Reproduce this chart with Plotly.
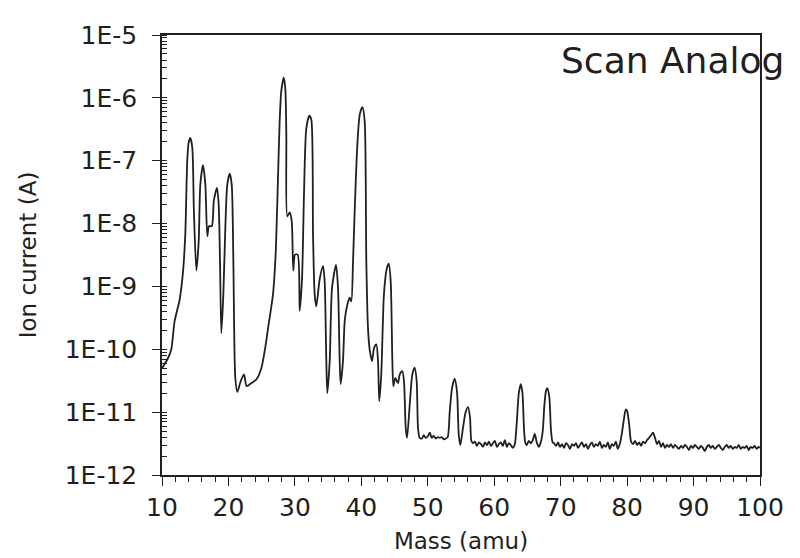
import plotly.graph_objects as go

# Mass scan (amu) and ion current (A)
mass = [
    10.0, 10.9, 11.4, 11.9, 12.66, 13.16, 13.5, 13.8, 14.0, 14.26, 14.56, 14.8,
    15.17, 15.52, 15.77, 16.17, 16.52, 16.82, 17.07, 17.5, 17.8, 18.28, 18.53,
    18.73, 18.93, 19.23, 19.53, 19.83, 20.19, 20.49, 20.74, 21.03, 21.34, 21.84,
    22.34, 22.74, 23.45, 24.2, 24.95, 25.45, 26.05, 26.7, 27.1, 27.46, 27.71,
    27.96, 28.32, 28.56, 28.71, 28.86, 29.22, 29.52, 29.76, 30.02, 30.42, 30.72,
    31.07, 31.37, 31.72, 32.17, 32.47, 32.73, 32.98, 33.22, 33.73, 34.23, 34.48,
    34.73, 34.88, 35.24, 35.59, 36.19, 36.49, 36.74, 36.89, 37.24, 37.5, 37.89,
    38.25, 38.49, 38.75, 39.0, 39.4, 39.76, 40.16, 40.5, 40.75, 41.0, 41.26,
    41.61, 41.91, 42.26, 42.51, 42.7, 43.0, 43.4, 43.82, 44.12, 44.42, 44.67,
    44.82, 45.12, 45.52, 45.78, 46.17, 46.42, 46.68, 46.88, 47.28, 47.68, 48.03,
    48.33, 48.53, 48.78,
    49.1, 49.4, 49.7, 50.0, 50.3, 50.6, 50.9, 51.2, 51.5, 51.8, 52.1, 52.4, 52.7, 53.0,
    53.3, 53.65, 54.05, 54.4, 54.66, 54.9, 55.3, 55.7, 56.06, 56.36, 56.56,
    56.8, 57.1, 57.4, 57.7, 58.0, 58.3, 58.6, 58.9, 59.2, 59.5, 59.8, 60.1, 60.4,
    60.7, 61.0, 61.3, 61.6, 61.9, 62.2, 62.5, 62.8, 63.1,
    63.4, 63.7, 64.0, 64.25, 64.5, 64.7,
    64.9, 65.2, 65.5, 65.8, 66.1, 66.4, 66.7, 67.0,
    67.3, 67.55, 67.8, 68.0, 68.3, 68.55, 68.8,
    69.0, 69.3, 69.6, 69.9, 70.2, 70.5, 70.8, 71.1, 71.4, 71.7, 72.0, 72.3, 72.6,
    72.9, 73.2, 73.5, 73.8, 74.1, 74.4, 74.7, 75.0, 75.3, 75.6, 75.9, 76.2, 76.5,
    76.8, 77.1, 77.4, 77.7, 78.0, 78.3, 78.6, 78.9,
    79.2, 79.5, 79.8, 80.0, 80.3, 80.6, 80.9, 81.2, 81.5, 81.8, 82.1, 82.4, 82.7,
    83.0, 83.3, 83.6, 83.9, 84.2, 84.5, 84.8,
    85.1, 85.4, 85.7, 86.0, 86.3, 86.6, 86.9, 87.2, 87.5, 87.8, 88.1, 88.4, 88.7,
    89.0, 89.3, 89.6, 89.9, 90.2, 90.5, 90.8, 91.1, 91.4, 91.7, 92.0, 92.3, 92.6,
    92.9, 93.2, 93.5, 93.8, 94.1, 94.4, 94.7, 95.0, 95.3, 95.6, 95.9, 96.2, 96.5,
    96.8, 97.1, 97.4, 97.7, 98.0, 98.3, 98.6, 98.9, 99.2, 99.5, 99.8, 100.0,
]

current = [
    5.0e-11, 7.2e-11, 1.0e-10, 2.8e-10, 6.2e-10, 1.7e-9, 6.6e-9, 1.0e-7, 1.9e-7, 2.3e-7, 1.6e-7, 1.6e-8,
    1.8e-9, 5.2e-9, 4.2e-8, 8.5e-8, 4.2e-8, 6.3e-9, 9.1e-9, 9.1e-9, 2.3e-8, 3.7e-8, 2.0e-8,
    2.5e-9, 1.8e-10, 7.4e-10, 8.5e-9, 4.2e-8, 6.2e-8, 4.2e-8, 2.5e-9, 3.5e-11, 2.1e-11, 3.1e-11,
    4.0e-11, 2.6e-11, 2.9e-11, 3.3e-11, 5.0e-11, 9.3e-11, 2.5e-10, 7.4e-10, 3.2e-9, 5.4e-8, 4.3e-7,
    1.3e-6, 2.1e-6, 1.4e-6, 2.6e-7, 1.3e-8, 1.5e-8, 1.1e-8, 1.8e-9, 3.2e-9, 3.2e-9, 4.1e-10,
    1.3e-9, 2.9e-8, 3.3e-7, 5.2e-7, 4.5e-7, 6.6e-9, 7.4e-10, 4.8e-10, 1.3e-9, 2.1e-9, 1.2e-9,
    6.5e-11, 2.0e-11, 6.5e-11, 9.5e-10, 2.2e-9, 9.5e-10, 6.5e-11, 2.8e-11, 6.5e-11, 2.8e-10, 5.1e-10,
    6.6e-10, 5.8e-10, 2.5e-9, 1.6e-8, 1.8e-7, 5.4e-7, 7.1e-7, 4.3e-7, 2.5e-9, 2.2e-10, 9.8e-11,
    6.5e-11, 1.05e-10, 1.2e-10, 6.5e-11, 1.5e-11, 4.0e-11, 7.4e-10, 1.9e-9, 2.3e-9, 1.2e-9, 6.5e-11,
    2.6e-11, 3.5e-11, 2.9e-11, 4.0e-11, 4.5e-11, 3.1e-11, 5.6e-12, 3.9e-12, 1.3e-11, 4.0e-11, 5.1e-11,
    3.1e-11, 5.6e-12, 3.9e-12,
    3.8e-12, 4.3e-12, 3.9e-12, 4.1e-12, 4.7e-12, 3.9e-12, 4.2e-12, 3.8e-12, 4.0e-12, 3.9e-12, 4.0e-12, 3.7e-12, 3.8e-12, 4.0e-12,
    1.0e-11, 2.4e-11, 3.4e-11, 2.1e-11, 4.4e-12, 3.0e-12, 5.6e-12, 1.0e-11, 1.2e-11, 8.1e-12, 3.5e-12,
    3.2e-12, 3.4e-12, 2.9e-12, 3.3e-12, 3.1e-12, 2.8e-12, 3.3e-12, 3.0e-12, 3.4e-12, 2.9e-12, 3.2e-12, 3.5e-12, 2.8e-12,
    3.1e-12, 3.3e-12, 2.9e-12, 3.6e-12, 2.8e-12, 3.2e-12, 3.0e-12, 2.7e-12, 3.1e-12,
    7.0e-12, 2.0e-11, 2.8e-11, 2.0e-11, 5.0e-12, 3.2e-12,
    3.0e-12, 3.5e-12, 3.2e-12, 3.6e-12, 4.5e-12, 3.3e-12, 2.8e-12, 3.3e-12,
    5.0e-12, 1.3e-11, 2.2e-11, 2.4e-11, 1.7e-11, 5.0e-12, 3.3e-12,
    3.2e-12, 2.9e-12, 3.3e-12, 2.8e-12, 3.1e-12, 2.7e-12, 3.2e-12, 3.0e-12, 2.6e-12, 3.1e-12, 2.9e-12, 3.2e-12, 2.7e-12,
    3.0e-12, 3.3e-12, 2.8e-12, 3.1e-12, 2.6e-12, 3.0e-12, 3.3e-12, 2.8e-12, 3.1e-12, 2.9e-12, 3.4e-12, 2.7e-12, 3.0e-12,
    2.8e-12, 3.3e-12, 2.6e-12, 3.1e-12, 2.9e-12, 3.4e-12, 2.6e-12, 3.1e-12,
    4.5e-12, 7.5e-12, 1.1e-11, 1.05e-11, 6.5e-12, 3.4e-12, 3.1e-12, 3.5e-12, 3.0e-12, 3.3e-12, 2.9e-12, 3.4e-12, 3.2e-12,
    3.6e-12, 3.9e-12, 4.3e-12, 4.7e-12, 3.9e-12, 3.1e-12, 3.5e-12,
    2.8e-12, 3.2e-12, 2.7e-12, 3.0e-12, 2.8e-12, 3.1e-12, 2.7e-12, 3.0e-12, 2.8e-12, 2.6e-12, 2.9e-12, 2.7e-12, 3.0e-12,
    2.8e-12, 2.5e-12, 2.9e-12, 2.7e-12, 3.0e-12, 2.8e-12, 2.6e-12, 2.9e-12, 2.7e-12, 2.4e-12, 2.8e-12, 3.0e-12, 2.7e-12,
    2.9e-12, 2.6e-12, 2.8e-12, 3.0e-12, 2.7e-12, 2.5e-12, 2.8e-12, 3.0e-12, 2.7e-12, 2.9e-12, 2.6e-12, 2.8e-12, 2.7e-12,
    3.0e-12, 2.6e-12, 2.8e-12, 2.7e-12, 2.9e-12, 2.5e-12, 2.8e-12, 2.7e-12, 2.9e-12, 2.6e-12, 2.8e-12, 2.7e-12,
]

assert len(mass) == len(current), (len(mass), len(current))

y_tickvals = [1e-12, 1e-11, 1e-10, 1e-9, 1e-8, 1e-7, 1e-6, 1e-5]
y_ticktext = ["1E-12", "1E-11", "1E-10", "1E-9", "1E-8", "1E-7", "1E-6", "1E-5"]
x_tickvals = [10, 20, 30, 40, 50, 60, 70, 80, 90, 100]

FONT = "DejaVu Sans"
INK = "#231f20"

fig = go.Figure()
fig.add_trace(go.Scatter(
    x=mass, y=current, mode="lines",
    line=dict(color=INK, width=1.8, shape="spline", smoothing=0.7),
    showlegend=False, hoverinfo="x+y",
))

fig.update_layout(
    width=800, height=558,
    margin=dict(l=154, r=48, t=27, b=91),
    paper_bgcolor="white", plot_bgcolor="white",
    font=dict(family=FONT, size=25, color=INK),
    annotations=[dict(
        text="Scan Analog", xref="paper", yref="paper",
        x=0.664, y=0.943, xanchor="left", yanchor="middle",
        showarrow=False, font=dict(family=FONT, size=36, color=INK),
    )],
)

fig.update_xaxes(
    range=[10, 100], tickmode="array", tickvals=x_tickvals,
    showline=True, linecolor=INK, linewidth=1.5, mirror=True,
    ticks="outside", ticklen=9, tickwidth=1.3, tickcolor=INK,
    minor=dict(dtick=2, ticks="outside", ticklen=5, tickwidth=1.2, tickcolor=INK),
    showgrid=False, zeroline=False,
    tickfont=dict(family=FONT, size=25, color=INK),
    title=dict(text="Mass (amu)", font=dict(family=FONT, size=23, color=INK), standoff=12),
)

fig.update_yaxes(
    type="log", range=[-12, -5], tickmode="array",
    tickvals=y_tickvals, ticktext=y_ticktext,
    showline=True, linecolor=INK, linewidth=1.5, mirror=True,
    ticks="outside", ticklen=8, tickwidth=1.3, tickcolor=INK,
    ticklabelstandoff=10,
    minor=dict(dtick="D1", ticks="inside", ticklen=5, tickwidth=1.0, tickcolor=INK),
    showgrid=False, zeroline=False,
    tickfont=dict(family=FONT, size=25, color=INK),
    title=dict(text="Ion current (A)", font=dict(family=FONT, size=23, color=INK), standoff=22),
)

fig.write_html("out.html")
